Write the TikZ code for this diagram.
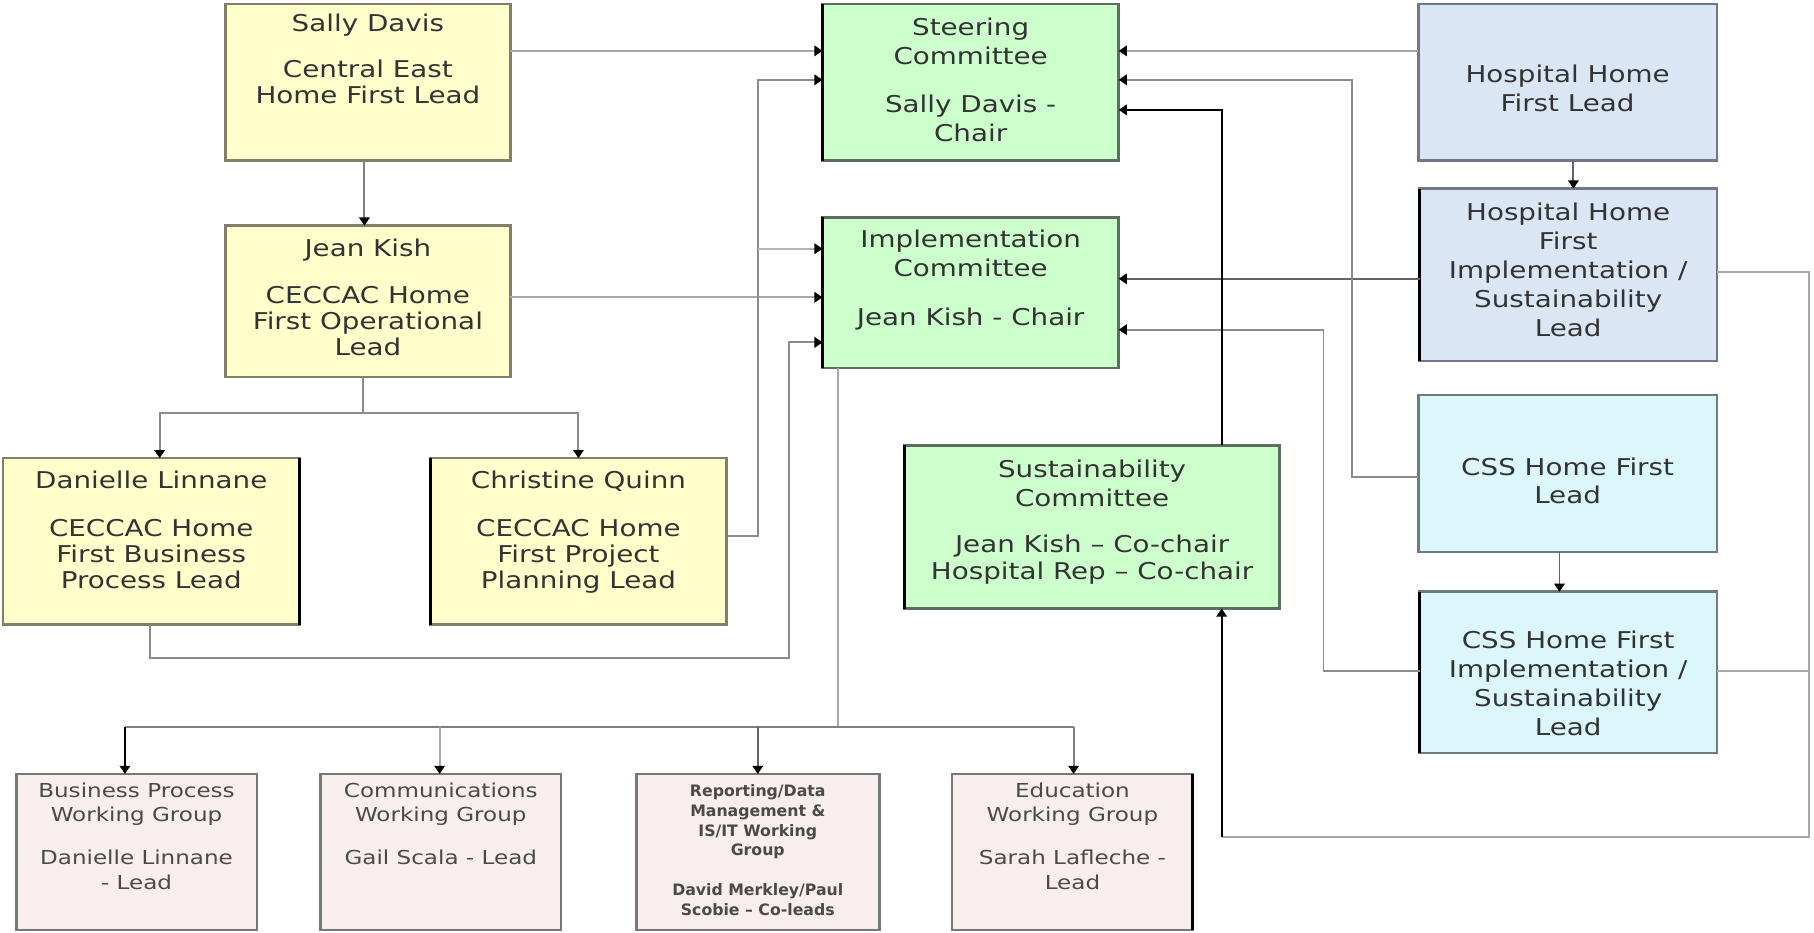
\documentclass[tikz,border=0pt]{standalone}
\usepackage{fontspec}
\setmainfont{DejaVu Sans}
\newfontfamily\mainf[FakeStretch=1.2]{DejaVu Sans}
\newfontfamily\repf{DejaVu Sans}
\usetikzlibrary{arrows.meta}
\definecolor{yfill}{HTML}{FFFFCC}
\definecolor{ydraw}{HTML}{7F7F6A}
\definecolor{gfill}{HTML}{CCFFCC}
\definecolor{gdraw}{HTML}{5E6E5E}
\definecolor{bfill}{HTML}{DBE6F5}
\definecolor{bdraw}{HTML}{707887}
\definecolor{cfill}{HTML}{DBF7FC}
\definecolor{cdraw}{HTML}{6E7B7E}
\definecolor{pfill}{HTML}{F8EEEE}
\definecolor{pdraw}{HTML}{777777}
\definecolor{tcol}{HTML}{333333}
\definecolor{wcol}{HTML}{4A4A4A}
\newcommand\mkbox[6]{\node[#2, minimum width={(#5-#3)*0.5pt}, minimum height={(#6-#4)*0.5pt}] (#1) at ({(#3+#5)/2},{(#4+#6)/2}) {};}
\begin{document}
\begin{tikzpicture}[x=0.5pt,y=-0.5pt,
  boxbase/.style={rectangle, inner sep=0pt, outer sep=0pt, line width=1.15pt},
  ybox/.style={boxbase, fill=yfill, draw=ydraw},
  gbox/.style={boxbase, fill=gfill, draw=gdraw},
  bbox/.style={boxbase, fill=bfill, draw=bdraw},
  cbox/.style={boxbase, fill=cfill, draw=cdraw},
  pbox/.style={boxbase, fill=pfill, draw=pdraw},
  txtA/.style={inner sep=0pt, align=center, text=tcol, anchor=north, font={\mainf\fontsize{10}{11.25}\selectfont}},
  txtB/.style={inner sep=0pt, align=center, text=tcol, anchor=north, font={\mainf\fontsize{10}{12.5}\selectfont}},
  txtW/.style={inner sep=0pt, align=center, text=wcol, anchor=north, font={\mainf\fontsize{8.3}{10.75}\selectfont}},
  txtR/.style={inner sep=0pt, align=center, text=wcol, anchor=north, font={\repf\bfseries\fontsize{6.8}{8.5}\selectfont}},
  edge/.style={black, line width=1.15pt},
  ln/.style={line width=0.85pt},
  arr/.style={-{Triangle[length=3.5pt,width=4.5pt,color=black]}},
  cA/.style={ln, draw={rgb,255:red,168;green,168;blue,168}},
  cB/.style={ln, draw={rgb,255:red,128;green,128;blue,128}},
  cC/.style={ln, draw={rgb,255:red,140;green,140;blue,140}},
  cD/.style={ln, draw={rgb,255:red,180;green,180;blue,180}},
  cE/.style={ln, draw={rgb,255:red,100;green,100;blue,100}},
  cK/.style={ln, draw=black}
]
\useasboundingbox (0,0) rectangle (1568,806);

% boxes
\mkbox{sally}{ybox}{195}{3.5}{441}{139}
\mkbox{jean}{ybox}{195}{195}{441}{326}
\mkbox{dan}{ybox}{2.5}{396}{259}{540}
\mkbox{chris}{ybox}{372}{396}{628}{540}
\mkbox{steer}{gbox}{711}{3.5}{967}{139}
\mkbox{impl}{gbox}{711}{188}{967}{318}
\mkbox{sust}{gbox}{782}{385}{1106}{526}
\mkbox{hosp}{bbox}{1226}{3.5}{1484}{139}
\mkbox{hhfi}{bbox}{1227}{163}{1484}{312}
\mkbox{css}{cbox}{1226}{341.5}{1484}{477}
\mkbox{cssi}{cbox}{1227}{511.5}{1484}{651}
\mkbox{bpwg}{pbox}{14}{669}{222}{804}
\mkbox{comwg}{pbox}{277}{669}{485}{804}
\mkbox{repwg}{pbox}{550}{669}{760}{804}
\mkbox{eduwg}{pbox}{823}{669}{1031}{804}

% dark edges
\draw[edge] (dan.north east) -- (dan.south east);
\draw[edge] (chris.north west) -- (chris.south west);
\draw[edge] (steer.north west) -- (steer.south west);
\draw[edge] (impl.north west) -- (impl.south west);
\draw[edge] (sust.north west) -- (sust.south west);
\draw[edge] (hhfi.north west) -- (hhfi.south west);
\draw[edge] (cssi.north west) -- (cssi.south west);
\draw[edge] (eduwg.north east) -- (eduwg.south east);

% texts
\node[txtA] (sallyT) at (sally.north |- 0,12) {Sally Davis\\[8.5pt]Central East\\Home First Lead};
\node[txtA] (jeanT) at (jean.north |- 0,206.5) {Jean Kish\\[8.75pt]CECCAC Home\\First Operational\\Lead};
\node[txtA] (danT) at (dan.north |- 0,407) {Danielle Linnane\\[9.2pt]CECCAC Home\\First Business\\Process Lead};
\node[txtA] (chrisT) at (chris.north |- 0,407) {Christine Quinn\\[9.2pt]CECCAC Home\\First Project\\Planning Lead};
\node[txtB] (steerT) at (steer.north |- 0,15) {Steering\\Committee\\[8.5pt]Sally Davis -\\Chair};
\node[txtB] (implT) at (impl.north |- 0,198.5) {Implementation\\Committee\\[8.5pt]Jean Kish - Chair};
\node[txtB] (sustT) at (sust.north |- 0,397) {Sustainability\\Committee\\[7.5pt]Jean Kish – Co-chair\\[-0.75pt]Hospital Rep – Co-chair};
\node[txtB] (hospT) at (hosp.north |- 0,56) {Hospital Home\\First Lead};
\node[txtB] (hhfiT) at (hhfi.north |- 0,175) {Hospital Home\\First\\Implementation /\\Sustainability\\Lead};
\node[txtB] (cssT) at (css.north |- 0,395) {CSS Home First\\Lead};
\node[txtB] (cssiT) at (cssi.north |- 0,545) {CSS Home First\\Implementation /\\Sustainability\\Lead};
\node[txtW] (bpT) at (bpwg.north |- 0,676) {Business Process\\Working Group\\[7.75pt]Danielle Linnane\\- Lead};
\node[txtW] (comT) at (comwg.north |- 0,676) {Communications\\Working Group\\[7.75pt]Gail Scala - Lead};
\node[txtR] (repT) at (repwg.north |- 0,678) {Reporting/Data\\Management \&\\IS/IT Working\\Group\\[8.75pt]David Merkley/Paul\\Scobie – Co-leads};
\node[txtW] (eduT) at (eduwg.north |- 0,676) {Education\\Working Group\\[7.75pt]Sarah Lafleche -\\Lead};

% connectors: left side
\draw[cA,arr] (sally.east |- 0,44) -- (steer.west |- 0,44);
\draw[cB,arr] (sally.south -| 315,0) -- (jean.north -| 315,0);
\draw[cA,arr] (jean.east |- 0,257) -- (impl.west |- 0,257);
\coordinate (jsplit) at (314,357);
\draw[cC] (jean.south -| 314,0) -- (jsplit);
\draw[cC,arr] (jsplit) -| (dan.north -| 138,0);
\draw[cC,arr] (jsplit) -| (chris.north -| 500,0);
\coordinate (cjoin) at (655,215);
\draw[cC,arr] (chris.east |- 0,463) -| (655,69) -- (steer.west |- 0,69);
\draw[cD,arr] (cjoin) -- (impl.west |- 0,215);
\draw[cC,arr] (dan.south -| 130,0) |- (682,569) |- (impl.west |- 0,296);

% implementation to working groups
\coordinate (bus) at (724.5,628.5);
\draw[cA] (impl.south -| 724.5,0) -- (bus);
\draw[cB] (108,628.5) -- (928,628.5);
\draw[cK,arr] (108,628.5) -- (bpwg.north -| 108,0);
\draw[cA,arr] (380,628.5) -- (comwg.north -| 380,0);
\draw[cE,arr] (655,628.5) -- (repwg.north -| 655,0);
\draw[cB,arr] (928,628.5) -- (eduwg.north -| 928,0);

% right side
\draw[cA,arr] (hosp.west |- 0,44) -- (steer.east |- 0,44);
\draw[cE,arr] (hosp.south -| 1360,0) -- (hhfi.north -| 1360,0);
\draw[cE,arr] (hhfi.west |- 0,241) -- (impl.east |- 0,241);
\draw[cC,arr] (css.west |- 0,412) -| (1169,69) -- (steer.east |- 0,69);
\draw[cE,arr] (css.south -| 1348,0) -- (cssi.north -| 1348,0);
\draw[cC,arr] (cssi.west |- 0,580) -| (1144,285) -- (impl.east |- 0,285);
\draw[cK,arr] (sust.north -| 1056,0) |- (steer.east |- 0,95);
\coordinate (loop) at (1056,723.5);
\draw[cA] (hhfi.east |- 0,235) -| (1564,723.5) -- (loop);
\draw[cA] (cssi.east |- 0,580) -- (1564,580);
\draw[cK,arr] (loop) -- (sust.south -| 1056,0);
\end{tikzpicture}
\end{document}
